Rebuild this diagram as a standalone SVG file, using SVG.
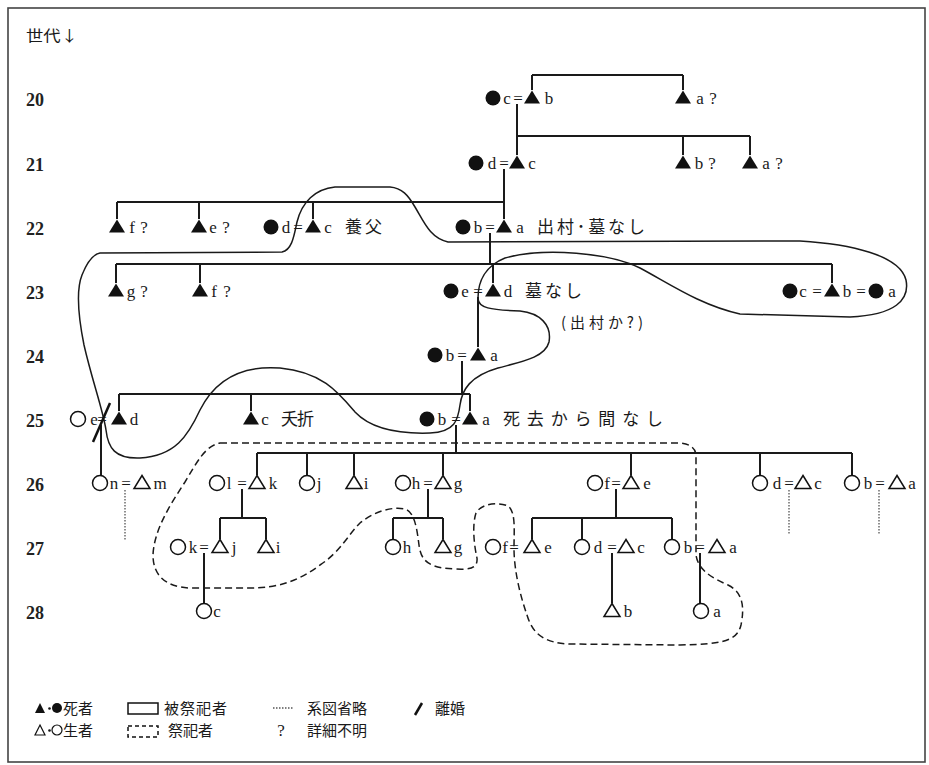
<svg xmlns="http://www.w3.org/2000/svg" xmlns:xlink="http://www.w3.org/1999/xlink" width="929" height="765" viewBox="0 0 929 765">
<style>
.t{font-family:"Liberation Serif",serif;font-size:17px;text-anchor:middle;fill:#1a1a1a}
.g{font-family:"Liberation Serif",serif;font-size:18px;font-weight:bold;fill:#222}
.j{font-family:"Noto Sans CJK JP","Noto Sans CJK SC",sans-serif;font-size:17px;fill:#1a1a1a}
.k{font-family:"Noto Sans CJK JP","Noto Sans CJK SC",sans-serif;font-size:15px;fill:#1a1a1a}
.F{fill:#111}
.O{fill:#fff;stroke:#111;stroke-width:1.5}
.ln{fill:none;stroke:#1a1a1a;stroke-width:2}
.dot{fill:none;stroke:#555;stroke-width:1.3;stroke-dasharray:1.5 1.5}
.loop{fill:none;stroke:#1a1a1a;stroke-width:1.5}
.dash{fill:none;stroke:#1a1a1a;stroke-width:1.5;stroke-dasharray:7 4}
</style>
<defs>
<circle id="cir" r="7.5"/>
<path id="tri" d="M0,-7.5 L8,5.5 L-8,5.5 Z"/>
</defs>
<rect x="8" y="8" width="917" height="754" fill="#fff" stroke="#444" stroke-width="1.6"/>

<g id="labels">
<text class="k" x="26" y="41" textLength="52" lengthAdjust="spacingAndGlyphs">世代↓</text>
<text class="g" x="26" y="106">20</text>
<text class="g" x="26" y="171">21</text>
<text class="g" x="26" y="235">22</text>
<text class="g" x="26" y="299">23</text>
<text class="g" x="26" y="363">24</text>
<text class="g" x="26" y="427">25</text>
<text class="g" x="26" y="491">26</text>
<text class="g" x="26" y="555">27</text>
<text class="g" x="26" y="619">28</text>
</g>

<g id="connectors">
<path class="ln" d="M532 75 H683 M532 75 V90 M683 75 V90"/>
<path class="ln" d="M517 104 V155 M517 136 H750 M683 136 V155 M750 136 V155"/>
<path class="ln" d="M504 169 V219 M117 202 H504 M117 202 V219 M199 202 V219 M313 202 V219"/>
<path class="ln" d="M490 233 V264 M116 264 H832 M116 264 V283 M200 264 V283 M493 264 V283 M832 264 V283"/>
<path class="ln" d="M478 297 V347"/>
<path class="ln" d="M462 361 V394 M119 394 H470 M119 394 V411 M251 394 V411 M470 394 V411"/>
<path class="ln" d="M101 425 V476"/>
<path class="ln" d="M456 425 V453 M257 453 H852 M257 453 V475 M307 453 V476 M354 453 V475 M443 453 V475 M631 453 V475 M760 453 V476 M852 453 V476"/>
<path class="ln" d="M242 489 V518 M220 518 H266 M220 518 V539 M266 518 V539"/>
<path class="ln" d="M428 489 V518 M393 518 H443 M393 518 V540 M443 518 V539"/>
<path class="ln" d="M616 489 V518 M532 518 H672 M532 518 V539 M582 518 V540 M672 518 V540"/>
<path class="ln" d="M204 553 V604 M612 553 V603 M700 553 V604"/>
<path class="dot" d="M125 490 V540 M789 490 V535 M879 490 V535"/>
<path class="loop" d="M100 253 L282 252 C292 250 294 236 297 222 C302 202 315 189 335 187 L390 187 C402 188 408 195 415 207 C424 222 430 238 448 242 L800 241 C850 244 900 255 906 280 C910 300 895 315 850 317 L740 314 C700 305 670 284 640 268 C610 253 545 247 505 258 C485 266 478 282 478 298 C478 308 490 310 520 311 C540 313 552 325 549 342 C545 358 520 362 498 368 C470 376 462 390 460 405 C458 420 455 432 430 433 C400 434 372 430 355 412 C338 392 322 372 280 368 C240 365 215 380 200 410 C188 436 175 456 140 458 C115 459 108 448 106 430 C103 410 92 380 84 345 C78 315 76 290 82 275 C88 260 95 254 100 253 Z"/>
<path class="dash" d="M220 443 L680 443 C690 444 696 448 696 456 L696 555 C698 570 712 578 728 585 C742 592 745 605 741 625 C737 642 720 644 680 645 L570 644 C545 643 533 635 527 615 C520 595 514 570 514 548 C514 530 516 512 508 506 C498 502 482 503 476 513 C472 525 474 545 477 558 C478 568 470 570 455 569 C430 568 421 562 419 545 C417 530 415 512 405 509 C390 506 372 513 360 523 C348 535 340 552 320 565 C300 580 280 588 250 588 L190 588 C165 587 153 575 153 555 C154 530 170 505 185 482 C197 462 205 446 220 443 Z"/>
</g>

<g id="n20-1"><use xlink:href="#cir" class="F" x="493" y="98"/><text class="t" x="507" y="104">c</text><text class="t" x="518" y="104">=</text><use xlink:href="#tri" class="F" x="532" y="98"/><text class="t" x="549" y="104">b</text></g>
<g id="n20-2"><use xlink:href="#tri" class="F" x="683" y="98"/><text class="t" x="700" y="104">a</text><text class="t" x="713" y="104">?</text></g>

<g id="n21-1"><use xlink:href="#cir" class="F" x="476" y="163"/><text class="t" x="492" y="169">d</text><text class="t" x="504" y="169">=</text><use xlink:href="#tri" class="F" x="517" y="163"/><text class="t" x="532" y="169">c</text></g>
<g id="n21-2"><use xlink:href="#tri" class="F" x="683" y="163"/><text class="t" x="699" y="169">b</text><text class="t" x="712" y="169">?</text></g>
<g id="n21-3"><use xlink:href="#tri" class="F" x="750" y="163"/><text class="t" x="766" y="169">a</text><text class="t" x="779" y="169">?</text></g>

<g id="n22-1"><use xlink:href="#tri" class="F" x="117" y="227"/><text class="t" x="132" y="233">f</text><text class="t" x="144" y="233">?</text></g>
<g id="n22-2"><use xlink:href="#tri" class="F" x="199" y="227"/><text class="t" x="213" y="233">e</text><text class="t" x="226" y="233">?</text></g>
<g id="n22-3"><use xlink:href="#cir" class="F" x="271" y="227"/><text class="t" x="286" y="233">d</text><text class="t" x="298" y="233">=</text><use xlink:href="#tri" class="F" x="313" y="227"/><text class="t" x="328" y="233">c</text><text class="j" x="345" y="233" textLength="37">養父</text></g>
<g id="n22-4"><use xlink:href="#cir" class="F" x="463" y="227"/><text class="t" x="478" y="233">b</text><text class="t" x="490" y="233">=</text><use xlink:href="#tri" class="F" x="504" y="227"/><text class="t" x="520" y="233">a</text><text class="j" x="537" y="233" textLength="108">出村･墓なし</text></g>

<g id="n23-1"><use xlink:href="#tri" class="F" x="116" y="291"/><text class="t" x="131" y="297">g</text><text class="t" x="144" y="297">?</text></g>
<g id="n23-2"><use xlink:href="#tri" class="F" x="200" y="291"/><text class="t" x="214" y="297">f</text><text class="t" x="227" y="297">?</text></g>
<g id="n23-3"><use xlink:href="#cir" class="F" x="451" y="291"/><text class="t" x="465" y="297">e</text><text class="t" x="478" y="297">=</text><use xlink:href="#tri" class="F" x="493" y="291"/><text class="t" x="508" y="297">d</text><text class="j" x="525" y="297" textLength="57">墓なし</text><text class="k" x="561" y="328" textLength="82">(出村か?)</text></g>
<g id="n23-4"><use xlink:href="#cir" class="F" x="790" y="291"/><text class="t" x="803" y="297">c</text><text class="t" x="817" y="297">=</text><use xlink:href="#tri" class="F" x="832" y="291"/><text class="t" x="847" y="297">b</text><text class="t" x="861" y="297">=</text><use xlink:href="#cir" class="F" x="876" y="291"/><text class="t" x="892" y="297">a</text></g>

<g id="n24-1"><use xlink:href="#cir" class="F" x="435" y="355"/><text class="t" x="450" y="361">b</text><text class="t" x="462" y="361">=</text><use xlink:href="#tri" class="F" x="478" y="355"/><text class="t" x="494" y="361">a</text></g>

<g id="n25-1"><use xlink:href="#cir" class="O" x="78" y="419"/><text class="t" x="94" y="425">e</text><text class="t" x="102" y="425">=</text><use xlink:href="#tri" class="F" x="119" y="419"/><text class="t" x="134" y="425">d</text><path d="M93 442 L110 403" stroke="#111" stroke-width="2.5"/></g>
<g id="n25-2"><use xlink:href="#tri" class="F" x="251" y="419"/><text class="t" x="265" y="425">c</text><text class="j" x="281" y="425" textLength="33">夭折</text></g>
<g id="n25-3"><use xlink:href="#cir" class="F" x="427" y="419"/><text class="t" x="442" y="425">b</text><text class="t" x="456" y="425">=</text><use xlink:href="#tri" class="F" x="470" y="419"/><text class="t" x="486" y="425">a</text><text class="j" x="503" y="425" textLength="160">死去から間なし</text></g>

<g id="n26-1"><use xlink:href="#cir" class="O" x="100" y="483"/><text class="t" x="114" y="489">n</text><text class="t" x="126" y="489">=</text><use xlink:href="#tri" class="O" x="142" y="483"/><text class="t" x="160" y="489">m</text></g>
<g id="n26-2"><use xlink:href="#cir" class="O" x="217" y="483"/><text class="t" x="229" y="489">l</text><text class="t" x="242" y="489">=</text><use xlink:href="#tri" class="O" x="257" y="483"/><text class="t" x="273" y="489">k</text></g>
<g id="n26-3"><use xlink:href="#cir" class="O" x="307" y="483"/><text class="t" x="319" y="489">j</text></g>
<g id="n26-4"><use xlink:href="#tri" class="O" x="354" y="483"/><text class="t" x="366" y="489">i</text></g>
<g id="n26-5"><use xlink:href="#cir" class="O" x="403" y="483"/><text class="t" x="416" y="489">h</text><text class="t" x="428" y="489">=</text><use xlink:href="#tri" class="O" x="443" y="483"/><text class="t" x="458" y="489">g</text></g>
<g id="n26-6"><use xlink:href="#cir" class="O" x="595" y="483"/><text class="t" x="607" y="489">f</text><text class="t" x="616" y="489">=</text><use xlink:href="#tri" class="O" x="631" y="483"/><text class="t" x="647" y="489">e</text></g>
<g id="n26-7"><use xlink:href="#cir" class="O" x="760" y="483"/><text class="t" x="777" y="489">d</text><text class="t" x="789" y="489">=</text><use xlink:href="#tri" class="O" x="803" y="483"/><text class="t" x="818" y="489">c</text></g>
<g id="n26-8"><use xlink:href="#cir" class="O" x="852" y="483"/><text class="t" x="868" y="489">b</text><text class="t" x="880" y="489">=</text><use xlink:href="#tri" class="O" x="897" y="483"/><text class="t" x="912" y="489">a</text></g>

<g id="n27-1"><use xlink:href="#cir" class="O" x="178" y="547"/><text class="t" x="193" y="553">k</text><text class="t" x="204" y="553">=</text><use xlink:href="#tri" class="O" x="220" y="547"/><text class="t" x="234" y="553">j</text></g>
<g id="n27-2"><use xlink:href="#tri" class="O" x="266" y="547"/><text class="t" x="278" y="553">i</text></g>
<g id="n27-3"><use xlink:href="#cir" class="O" x="393" y="547"/><text class="t" x="407" y="553">h</text></g>
<g id="n27-4"><use xlink:href="#tri" class="O" x="443" y="547"/><text class="t" x="458" y="553">g</text></g>
<g id="n27-5"><use xlink:href="#cir" class="O" x="493" y="547"/><text class="t" x="505" y="553">f</text><text class="t" x="514" y="553">=</text><use xlink:href="#tri" class="O" x="532" y="547"/><text class="t" x="548" y="553">e</text></g>
<g id="n27-6"><use xlink:href="#cir" class="O" x="582" y="547"/><text class="t" x="598" y="553">d</text><text class="t" x="612" y="553">=</text><use xlink:href="#tri" class="O" x="626" y="547"/><text class="t" x="641" y="553">c</text></g>
<g id="n27-7"><use xlink:href="#cir" class="O" x="672" y="547"/><text class="t" x="688" y="553">b</text><text class="t" x="700" y="553">=</text><use xlink:href="#tri" class="O" x="717" y="547"/><text class="t" x="733" y="553">a</text></g>

<g id="n28-1"><use xlink:href="#cir" class="O" x="204" y="611"/><text class="t" x="217" y="617">c</text></g>
<g id="n28-2"><use xlink:href="#tri" class="O" x="612" y="611"/><text class="t" x="628" y="617">b</text></g>
<g id="n28-3"><use xlink:href="#cir" class="O" x="701" y="611"/><text class="t" x="717" y="617">a</text></g>

<g id="legend">
<path d="M40 703 L45 713 L35 713 Z" class="F"/>
<circle cx="49.5" cy="708.5" r="1.3" class="F"/>
<circle cx="57" cy="708" r="5" class="F"/>
<text class="k" x="63" y="714" textLength="30">死者</text>
<rect x="128" y="703" width="30" height="11" fill="none" stroke="#111" stroke-width="1.5"/>
<text class="k" x="164" y="714" textLength="63">被祭祀者</text>
<path d="M273 708 H293" class="dot"/>
<text class="k" x="307" y="714" textLength="60">系図省略</text>
<path d="M415 715 L422 703" stroke="#111" stroke-width="2.5"/>
<text class="k" x="435" y="714" textLength="30">離婚</text>
<path d="M40 725 L45 735 L35 735 Z" fill="#fff" stroke="#111" stroke-width="1.2"/>
<circle cx="49.5" cy="730.5" r="1.3" class="F"/>
<circle cx="57" cy="730" r="5" fill="#fff" stroke="#111" stroke-width="1.2"/>
<text class="k" x="63" y="736" textLength="30">生者</text>
<rect x="128" y="726" width="30" height="11" fill="none" stroke="#111" stroke-width="1.5" stroke-dasharray="4 3"/>
<text class="k" x="168" y="736" textLength="45">祭祀者</text>
<text class="t" x="281" y="736">?</text>
<text class="k" x="307" y="736" textLength="60">詳細不明</text>
</g>
</svg>
